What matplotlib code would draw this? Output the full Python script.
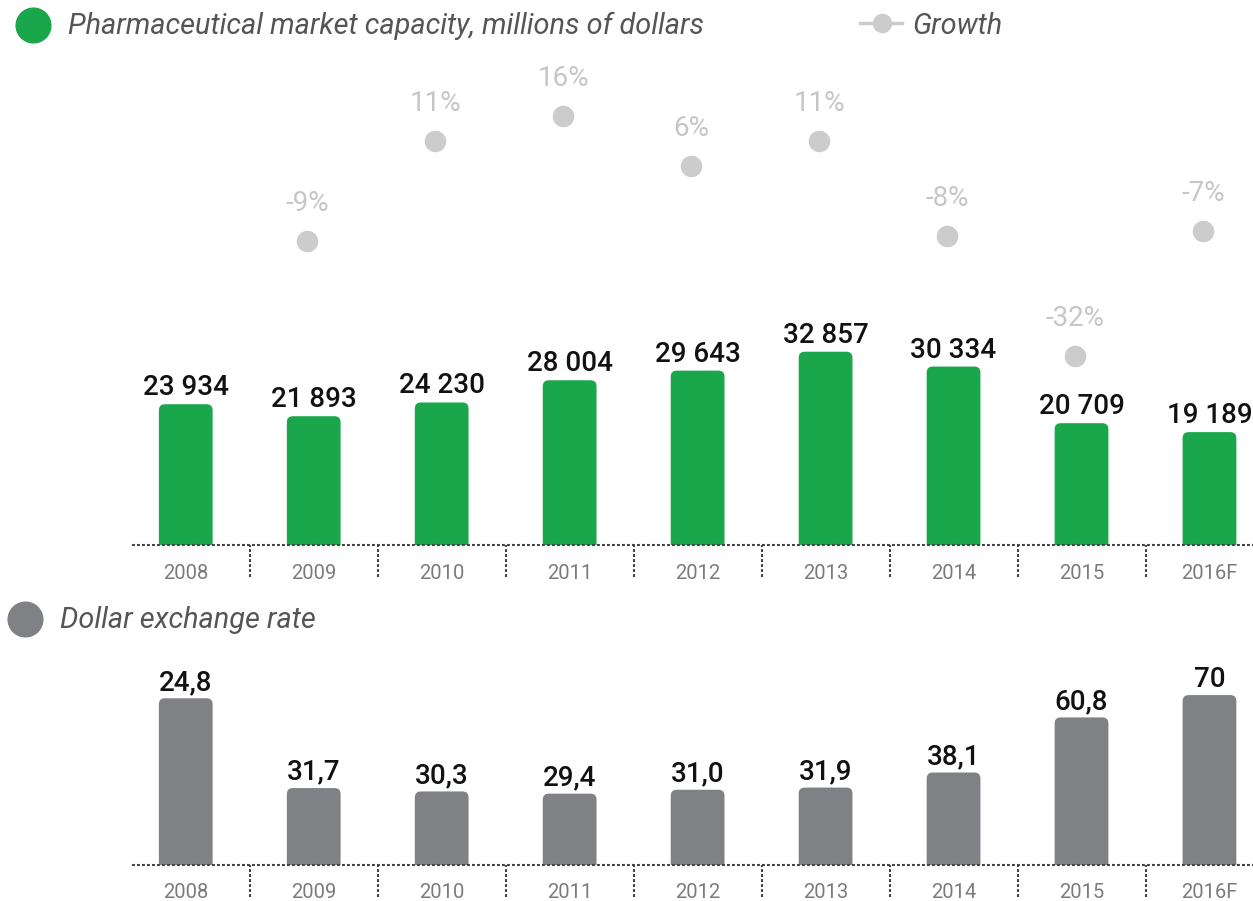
import matplotlib
matplotlib.use('Agg')
import matplotlib.pyplot as plt
from matplotlib.patches import FancyBboxPatch
from matplotlib.lines import Line2D

# ---------------- data ----------------
years = ['2008', '2009', '2010', '2011', '2012', '2013', '2014', '2015', '2016F']
market = [23934, 21893, 24230, 28004, 29643, 32857, 30334, 20709, 19189]
growth_idx = [1, 2, 3, 4, 5, 6, 7, 8]
growth = [-9, 11, 16, 6, 11, -8, -32, -7]
# bar heights as drawn in the picture (2008 bar is drawn much taller than its label)
rate_heights = [68.7, 31.7, 30.3, 29.4, 31.0, 31.9, 38.1, 60.8, 70.0]
rate_labels = ['24,8', '31,7', '30,3', '29,4', '31,0', '31,9', '38,1', '60,8', '70']

# ---------------- style ----------------
GREEN = '#1aa64a'
GREY_BAR = '#808185'
DOT = '#cccccc'
DOT_TXT = '#c6c6c6'
TXT = '#555555'
TICK = '#7b7b7b'
LINE = '#444444'
plt.rcParams['font.family'] = ['Roboto', 'DejaVu Sans']

W, H = 1253, 901
fig = plt.figure(figsize=(W / 100, H / 100), dpi=100)


def px_axes(left, top, right, bottom):
    return fig.add_axes([left / W, 1 - bottom / H, (right - left) / W, (bottom - top) / H])


XLIM = (-0.42, 8.34)
BAR_W = 0.42
DOT_SHIFT = -0.05  # growth dots sit a little left of bar centres


def style_axes(ax, pad):
    ax.set_xlim(*XLIM)
    for s in ax.spines.values():
        s.set_visible(False)
    ax.set_yticks([])
    ax.set_xticks(range(len(years)))
    ax.set_xticklabels(years, fontsize=14.5, color=TICK)
    ax.tick_params(axis='x', length=0, pad=pad)
    ax.axhline(0, color=LINE, lw=1.5, linestyle=(0, (1.4, 1.0)), zorder=5, clip_on=False)
    h_px = ax.get_position().height * H
    ax.vlines([i + 0.5 for i in range(len(years) - 1)], -32 / h_px, 0,
              transform=ax.get_xaxis_transform(), color=LINE, lw=1.5,
              linestyle=(0, (1.4, 1.0)), clip_on=False)


def rounded_bars(ax, values, color, radius_px=6):
    bars = ax.bar(range(len(values)), values, width=BAR_W, color=color)
    pos = ax.get_position()
    x_per_px = (XLIM[1] - XLIM[0]) / (pos.width * W)
    y0, y1 = ax.get_ylim()
    y_per_px = (y1 - y0) / (pos.height * H)
    r = radius_px * x_per_px
    aspect = y_per_px / x_per_px
    for b in bars:
        b.set_visible(False)
        x, w, h = b.get_x(), b.get_width(), b.get_height()
        p = FancyBboxPatch((x, -r * aspect), w, h + r * aspect,
                           boxstyle=f'round,pad=0,rounding_size={r}',
                           mutation_aspect=aspect, fc=color, ec='none', zorder=2)
        ax.add_patch(p)
    return bars


# ---------------- top panel ----------------
ax1 = px_axes(132, 60, 1253, 545)
ax1.set_ylim(0, 485 * 170)
style_axes(ax1, pad=14)
rounded_bars(ax1, market, GREEN)
for i, v in enumerate(market):
    ax1.annotate(f'{v:,}'.replace(',', ' '), (i, v), xytext=(0, 6.5),
                 textcoords='offset points', ha='center', va='baseline',
                 fontsize=20, color='#111111', fontweight='medium')

ax2 = ax1.twinx()
ax2.set_ylim(16 - (545 - 116) / 5, 16 + (116 - 60) / 5)
ax2.set_xlim(*XLIM)
ax2.axis('off')
gx = [i + DOT_SHIFT for i in growth_idx]
ax2.plot(gx, growth, 'o', ms=14.5, color=DOT, ls='none', zorder=3)
for i, g in zip(gx, growth):
    ax2.annotate(f'{g}%', (i, g), xytext=(0, 21.5), textcoords='offset points',
                 ha='center', va='baseline', fontsize=20, color=DOT_TXT)

# ---------------- bottom panel ----------------
ax3 = px_axes(132, 640, 1253, 865)
ax3.set_ylim(0, 225 * 0.412)
style_axes(ax3, pad=13)
rounded_bars(ax3, rate_heights, GREY_BAR)
for i, (v, lab) in enumerate(zip(rate_heights, rate_labels)):
    ax3.annotate(lab, (i, v), xytext=(0, 6), textcoords='offset points',
                 ha='center', va='baseline', fontsize=20, color='#111111',
                 fontweight='medium')

# ---------------- legends ----------------
fig.add_artist(Line2D([33 / W], [1 - 25 / H], marker='o', ms=25, color=GREEN,
                      transform=fig.transFigure))
fig.text(68 / W, 1 - 34 / H, 'Pharmaceutical market capacity, millions of dollars',
         fontsize=20.8, style='italic', color=TXT, va='baseline')

fig.add_artist(Line2D([860 / W, 902 / W], [1 - 23 / H] * 2, lw=2.5, color=DOT,
                      transform=fig.transFigure))
fig.add_artist(Line2D([882 / W], [1 - 23 / H], marker='o', ms=13, color=DOT,
                      transform=fig.transFigure))
fig.text(912 / W, 1 - 34 / H, 'Growth', fontsize=20.8, style='italic', color=TXT,
         va='baseline')

fig.add_artist(Line2D([25 / W], [1 - 619 / H], marker='o', ms=25, color=GREY_BAR,
                      transform=fig.transFigure))
fig.text(60 / W, 1 - 628 / H, 'Dollar exchange rate', fontsize=20.8, style='italic',
         color=TXT, va='baseline')

fig.savefig('out.png', dpi=100, facecolor='white')
